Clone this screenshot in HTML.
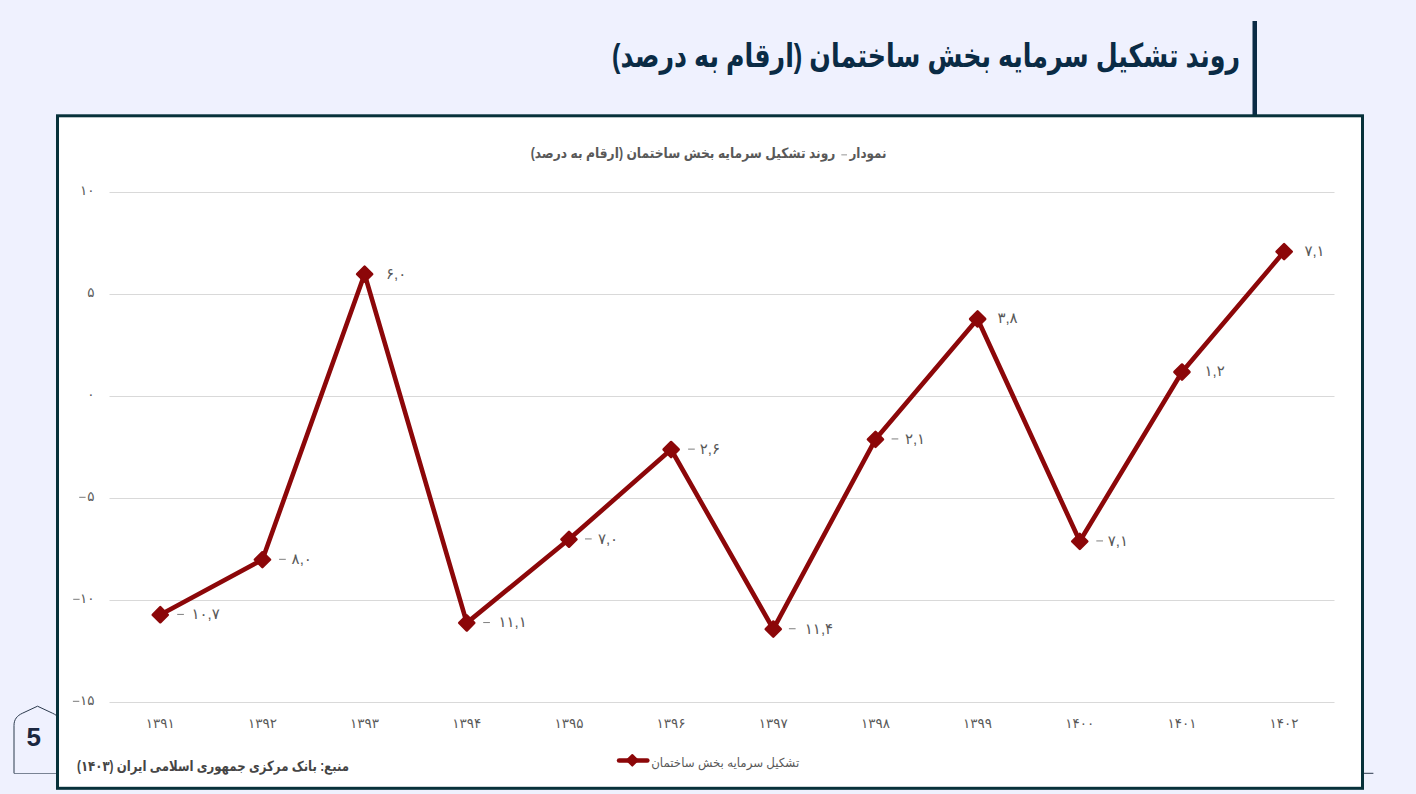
<!DOCTYPE html>
<html lang="fa">
<head>
<meta charset="utf-8">
<title>روند تشکیل سرمایه بخش ساختمان</title>
<style>
html,body{margin:0;padding:0;background:#EFF1FE;}
body{width:1416px;height:794px;overflow:hidden;position:relative;font-family:"Liberation Sans",sans-serif;}
svg{display:block;position:absolute;left:0;top:0;}
svg text{font-family:"Liberation Sans","DejaVu Sans",sans-serif;}
.sr-only{position:absolute;width:1px;height:1px;margin:-1px;padding:0;overflow:hidden;clip:rect(0 0 0 0);clip-path:inset(50%);white-space:nowrap;border:0;}
</style>
</head>
<body>
<svg width="1416" height="794" viewBox="0 0 1416 794" role="img" aria-labelledby="t1">
<rect width="1416" height="794" fill="#EFF1FE"/>
<path d="M14 773.3H1373.4" stroke="#2b3a4d" stroke-width="1" fill="none"/>
<path d="M14 773.3V725.5C14 719.2 17.2 715.7 22.3 713.3L37.5 706.2L52.7 713.3C57.8 715.7 61 719.2 61 725.5V773.3" fill="#EFF1FE" stroke="#2b3a4d" stroke-width="1" stroke-linejoin="round"/>
<text x="33.8" y="745.8" font-size="26" font-weight="bold" fill="#1B2740" text-anchor="middle">5</text>
<rect x="1252.5" y="21" width="4.5" height="94" fill="#0A2B45"/>
<g role="heading" aria-level="1" aria-label="روند تشکیل سرمایه بخش ساختمان (ارقام به درصد)">
<text x="926" y="66.6" font-size="33" font-weight="bold" fill="#0A2B45" text-anchor="middle" direction="rtl" textLength="628" lengthAdjust="spacingAndGlyphs">روند تشکیل سرمایه بخش ساختمان (ارقام به درصد)</text>
</g>
<rect x="57.5" y="115.8" width="1305" height="672.5" fill="#FFFFFF" stroke="#07313A" stroke-width="3"/>
<g role="heading" aria-level="2" aria-label="نمودار- روند تشکیل سرمایه بخش ساختمان (ارقام به درصد)">
<text x="868" y="158.4" font-size="14" font-weight="bold" fill="#595959" text-anchor="middle" direction="rtl" textLength="37" lengthAdjust="spacingAndGlyphs">نمودار</text>
<rect x="841.3" y="154.3" width="5.7" height="1.1" fill="#a0a0a0"/>
<text x="683" y="158.4" font-size="14" font-weight="bold" fill="#595959" text-anchor="middle" direction="rtl" textLength="304.7" lengthAdjust="spacingAndGlyphs">روند تشکیل سرمایه بخش ساختمان (ارقام به درصد)</text>
</g>
<path d="M109.5 192.5H1334.5" stroke="#D9D9D9" stroke-width="1.2"/>
<path d="M109.5 294.5H1334.5" stroke="#D9D9D9" stroke-width="1.2"/>
<path d="M109.5 396.5H1334.5" stroke="#D9D9D9" stroke-width="1.2"/>
<path d="M109.5 498.5H1334.5" stroke="#D9D9D9" stroke-width="1.2"/>
<path d="M109.5 600.5H1334.5" stroke="#D9D9D9" stroke-width="1.2"/>
<path d="M109.5 702.5H1334.5" stroke="#D9D9D9" stroke-width="1.2"/>
<text x="94.5" y="195.4" font-size="13.5" fill="#595959" text-anchor="end">۱۰</text>
<text x="94.5" y="297.3" font-size="13.5" fill="#595959" text-anchor="end">۵</text>
<text x="94.5" y="399.4" font-size="13.5" fill="#595959" text-anchor="end">۰</text>
<text x="94.5" y="501.3" font-size="13.5" fill="#595959" text-anchor="end">۵</text>
<rect x="79.2" y="496.8" width="6.4" height="1" fill="#7a7a7a"/>
<text x="94.5" y="603.4" font-size="13.5" fill="#595959" text-anchor="end">۱۰</text>
<rect x="73.2" y="598.8" width="6.4" height="1" fill="#7a7a7a"/>
<text x="94.5" y="705.4" font-size="13.5" fill="#595959" text-anchor="end">۱۵</text>
<rect x="72.9" y="700.8" width="6.4" height="1" fill="#7a7a7a"/>
<text x="160.3" y="728" font-size="13.5" fill="#595959" text-anchor="middle">۱۳۹۱</text>
<text x="262.4" y="728" font-size="13.5" fill="#595959" text-anchor="middle">۱۳۹۲</text>
<text x="364.6" y="728" font-size="13.5" fill="#595959" text-anchor="middle">۱۳۹۳</text>
<text x="466.8" y="728" font-size="13.5" fill="#595959" text-anchor="middle">۱۳۹۴</text>
<text x="569.0" y="728" font-size="13.5" fill="#595959" text-anchor="middle">۱۳۹۵</text>
<text x="671.1" y="728" font-size="13.5" fill="#595959" text-anchor="middle">۱۳۹۶</text>
<text x="773.3" y="728" font-size="13.5" fill="#595959" text-anchor="middle">۱۳۹۷</text>
<text x="875.5" y="728" font-size="13.5" fill="#595959" text-anchor="middle">۱۳۹۸</text>
<text x="977.6" y="728" font-size="13.5" fill="#595959" text-anchor="middle">۱۳۹۹</text>
<text x="1079.8" y="728" font-size="13.5" fill="#595959" text-anchor="middle">۱۴۰۰</text>
<text x="1182.0" y="728" font-size="13.5" fill="#595959" text-anchor="middle">۱۴۰۱</text>
<text x="1284.1" y="728" font-size="13.5" fill="#595959" text-anchor="middle">۱۴۰۲</text>
<path d="M160.3 614.8L262.4 559.7L364.6 274.1L466.8 622.9L569.0 539.3L671.1 449.5L773.3 629.1L875.5 439.3L977.6 319.0L1079.8 541.3L1182.0 372.0L1284.1 251.7" fill="none" stroke="#8C0709" stroke-width="4.6" stroke-linejoin="round" stroke-linecap="round"/>
<path d="M160.3 607.2L167.8 614.8L160.3 622.3L152.7 614.8Z" fill="#8C0709" stroke="#8C0709" stroke-width="2.5" stroke-linejoin="round"/>
<path d="M262.4 552.2L270.0 559.7L262.4 567.2L254.9 559.7Z" fill="#8C0709" stroke="#8C0709" stroke-width="2.5" stroke-linejoin="round"/>
<path d="M364.6 266.6L372.2 274.1L364.6 281.7L357.1 274.1Z" fill="#8C0709" stroke="#8C0709" stroke-width="2.5" stroke-linejoin="round"/>
<path d="M466.8 615.4L474.3 622.9L466.8 630.5L459.2 622.9Z" fill="#8C0709" stroke="#8C0709" stroke-width="2.5" stroke-linejoin="round"/>
<path d="M569.0 531.8L576.5 539.3L569.0 546.8L561.4 539.3Z" fill="#8C0709" stroke="#8C0709" stroke-width="2.5" stroke-linejoin="round"/>
<path d="M671.1 442.0L678.7 449.5L671.1 457.1L663.6 449.5Z" fill="#8C0709" stroke="#8C0709" stroke-width="2.5" stroke-linejoin="round"/>
<path d="M773.3 621.5L780.8 629.1L773.3 636.6L765.7 629.1Z" fill="#8C0709" stroke="#8C0709" stroke-width="2.5" stroke-linejoin="round"/>
<path d="M875.5 431.8L883.0 439.3L875.5 446.9L867.9 439.3Z" fill="#8C0709" stroke="#8C0709" stroke-width="2.5" stroke-linejoin="round"/>
<path d="M977.6 311.4L985.2 319.0L977.6 326.5L970.1 319.0Z" fill="#8C0709" stroke="#8C0709" stroke-width="2.5" stroke-linejoin="round"/>
<path d="M1079.8 533.8L1087.3 541.3L1079.8 548.9L1072.2 541.3Z" fill="#8C0709" stroke="#8C0709" stroke-width="2.5" stroke-linejoin="round"/>
<path d="M1182.0 364.5L1189.5 372.0L1182.0 379.6L1174.4 372.0Z" fill="#8C0709" stroke="#8C0709" stroke-width="2.5" stroke-linejoin="round"/>
<path d="M1284.1 244.1L1291.7 251.7L1284.1 259.2L1276.6 251.7Z" fill="#8C0709" stroke="#8C0709" stroke-width="2.5" stroke-linejoin="round"/>
<text x="191.5" y="619.2" font-size="15" fill="#595959">۱۰,۷</text>
<rect x="177.2" y="613.9" width="6.7" height="1.05" fill="#858585"/>
<text x="291.6" y="564.1" font-size="15" fill="#595959">۸,۰</text>
<rect x="279.1" y="558.8" width="6.7" height="1.05" fill="#858585"/>
<text x="386" y="278.5" font-size="15" fill="#595959">۶,۰</text>
<text x="498.5" y="627.3" font-size="15" fill="#595959">۱۱,۱</text>
<rect x="483.2" y="622.0" width="6.7" height="1.05" fill="#858585"/>
<text x="597.9" y="543.7" font-size="15" fill="#595959">۷,۰</text>
<rect x="585.0" y="538.4" width="6.7" height="1.05" fill="#858585"/>
<text x="699.8" y="453.9" font-size="15" fill="#595959">۲,۶</text>
<rect x="688.1" y="448.6" width="6.7" height="1.05" fill="#858585"/>
<text x="804.8" y="633.5" font-size="15" fill="#595959">۱۱,۴</text>
<rect x="788.9" y="628.2" width="6.7" height="1.05" fill="#858585"/>
<text x="904.9" y="443.7" font-size="15" fill="#595959">۲,۱</text>
<rect x="891.6" y="438.4" width="6.7" height="1.05" fill="#858585"/>
<text x="997.4" y="323.4" font-size="15" fill="#595959">۳,۸</text>
<text x="1107.7" y="545.7" font-size="15" fill="#595959">۷,۱</text>
<rect x="1096.3" y="540.4" width="6.7" height="1.05" fill="#858585"/>
<text x="1204.5" y="376.4" font-size="15" fill="#595959">۱,۲</text>
<text x="1304.4" y="256.1" font-size="15" fill="#595959">۷,۱</text>
<path d="M619.1 760.5H647.3" stroke="#8C0709" stroke-width="4.6" stroke-linecap="round"/>
<path d="M632.3 755.0L637.5999999999999 760.3L632.3 765.5999999999999L627.0 760.3Z" fill="#8C0709" stroke="#8C0709" stroke-width="2" stroke-linejoin="round"/>
<text x="725.2" y="766.7" font-size="12.5" fill="#595959" text-anchor="middle" direction="rtl" textLength="148" lengthAdjust="spacingAndGlyphs">تشکیل سرمایه بخش ساختمان</text>
<g role="note" aria-label="منبع: بانک مرکزی جمهوری اسلامی ایران (۱۴۰۳)">
<text x="213" y="771.3" font-size="14" font-weight="bold" fill="#454545" text-anchor="middle" direction="rtl" textLength="272" lengthAdjust="spacingAndGlyphs">منبع: بانک مرکزی جمهوری اسلامی ایران (۱۴۰۳)</text>
</g>
</svg>
<section class="sr-only" dir="rtl">
<h1 id="t1">روند تشکیل سرمایه بخش ساختمان (ارقام به درصد)</h1>
<h2>نمودار- روند تشکیل سرمایه بخش ساختمان (ارقام به درصد)</h2>
<table>
<caption>تشکیل سرمایه بخش ساختمان</caption>
<thead><tr><th>سال</th><th>درصد</th></tr></thead>
<tbody>
<tr><td>۱۳۹۱</td><td>- ۱۰,۷</td></tr>
<tr><td>۱۳۹۲</td><td>- ۸,۰</td></tr>
<tr><td>۱۳۹۳</td><td>۶,۰</td></tr>
<tr><td>۱۳۹۴</td><td>- ۱۱,۱</td></tr>
<tr><td>۱۳۹۵</td><td>- ۷,۰</td></tr>
<tr><td>۱۳۹۶</td><td>- ۲,۶</td></tr>
<tr><td>۱۳۹۷</td><td>- ۱۱,۴</td></tr>
<tr><td>۱۳۹۸</td><td>- ۲,۱</td></tr>
<tr><td>۱۳۹۹</td><td>۳,۸</td></tr>
<tr><td>۱۴۰۰</td><td>- ۷,۱</td></tr>
<tr><td>۱۴۰۱</td><td>۱,۲</td></tr>
<tr><td>۱۴۰۲</td><td>۷,۱</td></tr>
</tbody>
</table>
<p>منبع: بانک مرکزی جمهوری اسلامی ایران (۱۴۰۳)</p>
<p>5</p>
</section>
</body>
</html>
